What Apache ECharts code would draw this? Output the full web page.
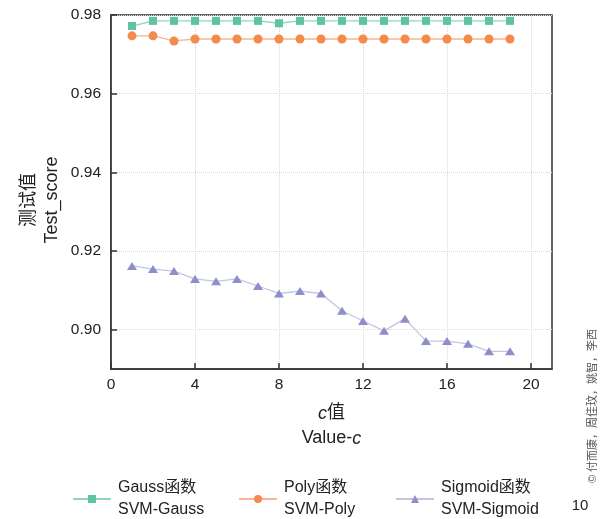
<!DOCTYPE html>
<html><head><meta charset="utf-8">
<script src="https://cdn.jsdelivr.net/npm/echarts@6/dist/echarts.min.js"></script>
<style>html,body{margin:0;padding:0;background:#fff}#c{width:606px;height:519px}</style>
</head><body><div id="c"></div><script>
const cValues = [1,2,3,4,5,6,7,8,9,10,11,12,13,14,15,16,17,18,19];
const gaussScores = [0.9772,0.9785,0.9785,0.9785,0.9785,0.9785,0.9785,0.9779,0.9785,0.9785,0.9785,0.9785,0.9785,0.9785,0.9785,0.9785,0.9785,0.9785,0.9785];
const polyScores = [0.9747,0.9747,0.9734,0.9739,0.9739,0.9739,0.9739,0.9739,0.9739,0.9739,0.9739,0.9739,0.9739,0.9739,0.9739,0.9739,0.9739,0.9739,0.9739];
const sigmoidScores = [0.9162,0.9154,0.9149,0.9129,0.9123,0.9129,0.9111,0.9092,0.9098,0.9092,0.9048,0.9022,0.8997,0.9028,0.8971,0.8971,0.8964,0.8945,0.8945];
const xTicks = [0,4,8,12,16,20];
const yTicks = [0.90,0.92,0.94,0.96,0.98];
const seriesNames = ['Gauss函数','Poly函数','Sigmoid函数'];
const seriesEn = ['SVM-Gauss','SVM-Poly','SVM-Sigmoid'];

const FONT = '"Liberation Sans", Arial, "Noto Sans CJK SC", sans-serif';
const chart = echarts.init(document.getElementById('c'), null, {renderer:'canvas'});
const pair = arr => cValues.map((c,i)=>[c,arr[i]]);
const colors = ['#5dc4a1','#f48a4b','#8c8fc9'];
const lineColors = ['#8fd6bd','#f8b790','#c3c4e3'];
const symbols = ['rect','circle','triangle'];
const symSizes = [8,9,[10,8]];
const dataSets = [gaussScores, polyScores, sigmoidScores];
const legendLefts = [72,238,395];

const option = {
  animation:false,
  backgroundColor:'#fff',
  textStyle:{fontFamily:FONT},
  grid:{left:111,top:15,right:54,bottom:150,show:true,borderColor:'#333',borderWidth:1.5,backgroundColor:'transparent'},
  xAxis:{
    type:'value',min:0,max:21,
    axisLabel:{customValues:xTicks,fontSize:15.5,color:'#222',margin:8,fontFamily:FONT},
    axisTick:{customValues:xTicks,inside:true,length:6,lineStyle:{color:'#333',width:1.5}},
    axisLine:{lineStyle:{color:'#333',width:1.5}},
    splitLine:{show:true,lineStyle:{color:'#d8d8d8',type:'dotted',width:1}},
    name:'{i|c}值\nValue-{i|c}',nameLocation:'middle',nameGap:32,nameMoveOverlap:false,
    nameTextStyle:{fontSize:18,color:'#222',lineHeight:25,fontFamily:FONT,
      rich:{i:{fontStyle:'italic',fontSize:18,color:'#222',fontFamily:FONT,lineHeight:25}}}
  },
  yAxis:{
    type:'value',min:0.89,max:0.98,
    axisLabel:{customValues:yTicks,fontSize:15.5,color:'#222',margin:10,fontFamily:FONT,formatter:v=>v.toFixed(2)},
    axisTick:{customValues:yTicks,inside:true,length:6,lineStyle:{color:'#333',width:1.5}},
    axisLine:{show:true,lineStyle:{color:'#333',width:1.5}},
    splitLine:{show:true,lineStyle:{color:'#d8d8d8',type:'dotted',width:1}},
    name:'测试值\nTest_score',nameLocation:'middle',nameGap:47,nameRotate:90,nameMoveOverlap:false,
    nameTextStyle:{fontSize:18,color:'#222',lineHeight:23,fontFamily:FONT,padding:[0,16,0,0]}
  },
  legend: seriesNames.map((n,i)=>({
    data:[n],left:legendLefts[i],top:477,orient:'horizontal',padding:0,
    itemWidth:38,itemHeight:10,itemGap:6,
    formatter:name=>name+'\n'+seriesEn[i],
    textStyle:{fontSize:16,color:'#222',lineHeight:22,fontFamily:FONT,padding:[0,0,0,2]}
  })),
  series: seriesNames.map((n,i)=>({
    name:n,type:'line',data:pair(dataSets[i]),
    symbol:symbols[i],symbolSize:symSizes[i],showSymbol:true,
    itemStyle:{color:colors[i]},
    lineStyle:{color:lineColors[i],width:1.3},
    emphasis:{disabled:true}
  })),
  graphic:[
    {type:'text',x:593,y:406,rotation:Math.PI/2,
      style:{text:'© 付而康，周佳玟，姚智，李西',fontSize:11,fill:'#555',align:'center',verticalAlign:'middle',fontFamily:FONT}},
    {type:'text',x:580,y:506,
      style:{text:'10',fontSize:15,fill:'#222',align:'center',verticalAlign:'middle',fontFamily:FONT}}
  ]
};
chart.setOption(option);
</script></body></html>
